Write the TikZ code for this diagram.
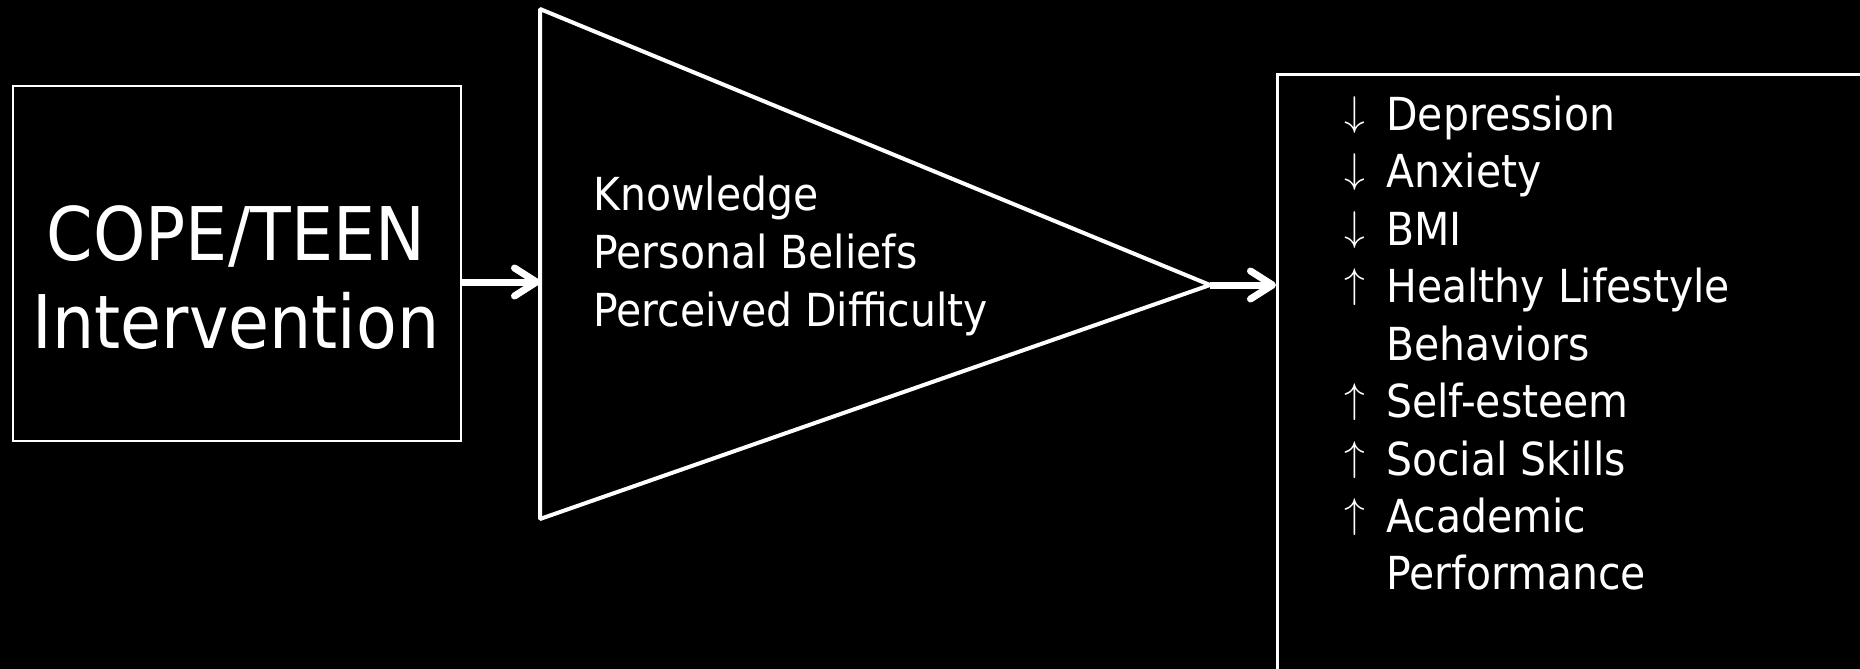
\documentclass[tikz,border=0pt]{standalone}
\usepackage{fontspec}
\setmainfont[FakeStretch=0.9]{DejaVu Sans}
\usetikzlibrary{arrows.meta}
\newcommand\arw[1]{\makebox[22.5pt][l]{\hspace{1.5pt}\raisebox{0.1em}{#1}}}
\begin{document}
\begin{tikzpicture}[x=0.5pt,y=-0.5pt,
  txt/.style={text=white,inner sep=0pt,font=\fontsize{22.75pt}{28.75pt}\selectfont},
  midtxt/.style={text=white,inner sep=0pt,font=\fontsize{22.75pt}{29pt}\selectfont},
  big/.style={text=white,inner sep=0pt,font=\fontsize{37pt}{44pt}\selectfont},
  boxed/.style={draw=white,inner sep=0pt,anchor=north west},
  flow/.style={draw=white,line width=3.5pt,-{Straight Barb[round,length=11pt,width=14pt]}},
]
\useasboundingbox (0,0) rectangle (1860,669);
\fill[black] (0,0) rectangle (1860,669);
\clip (0,0) rectangle (1860,669);

% left box
\node[boxed,line width=1pt,minimum width=224pt,minimum height=177.5pt] (cope) at (12,85) {};
\node[big,anchor=base] (copetxt) at (236,260)
  {\vtop{\halign{\hfil#\hfil\cr COPE/TEEN\cr Intervention\cr}}};

% triangle
\coordinate (ta) at (540,9);
\coordinate (tb) at (540,519);
\coordinate (tc) at (1210,285);
\coordinate (tin) at (540,282);
\draw[white,line width=2pt,line join=bevel] (ta) -- (tc) -- (tb) -- cycle;
\node[midtxt,anchor=base west] (med) at (593,210)
  {\vtop{\hbox{Knowledge}\hbox{Personal Beliefs}\hbox{Perceived Difficulty}}};

% right box
\node[boxed,line width=1.5pt,minimum width=320pt,minimum height=330pt] (out) at (1276,73) {};
\node[txt,anchor=base west] (list) at (1341,130)
  {\vtop{%
    \hbox{\arw{$\downarrow$}Depression}%
    \hbox{\arw{$\downarrow$}Anxiety}%
    \hbox{\arw{$\downarrow$}BMI}%
    \hbox{\arw{$\uparrow$}Healthy Lifestyle}%
    \hbox{\arw{}Behaviors}%
    \hbox{\arw{$\uparrow$}Self-esteem}%
    \hbox{\arw{$\uparrow$}Social Skills}%
    \hbox{\arw{$\uparrow$}Academic}%
    \hbox{\arw{}Performance}}};

% connectors
\draw[flow] (cope.east |- tin) -- (tin);
\draw[flow] (tc) -- (out.west |- tc);
\end{tikzpicture}
\end{document}
